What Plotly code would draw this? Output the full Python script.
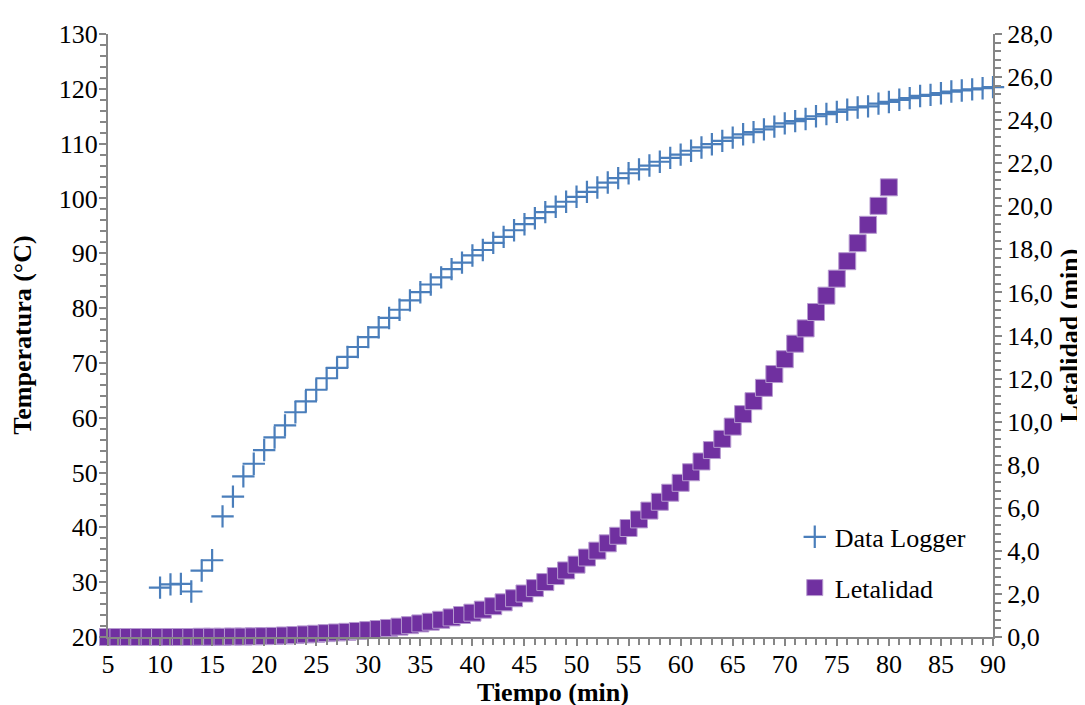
import plotly.graph_objects as go

# ---- data ----
time_logger = [10, 11, 12, 13, 14, 15, 16, 17, 18, 19, 20, 21, 22, 23, 24, 25, 26, 27, 28, 29,
               30, 31, 32, 33, 34, 35, 36, 37, 38, 39, 40, 41, 42, 43, 44, 45, 46, 47, 48, 49,
               50, 51, 52, 53, 54, 55, 56, 57, 58, 59, 60, 61, 62, 63, 64, 65, 66, 67, 68, 69,
               70, 71, 72, 73, 74, 75, 76, 77, 78, 79, 80, 81, 82, 83, 84, 85, 86, 87, 88, 89, 90]
temp_logger = [29.0, 29.6, 29.7, 28.3, 32.1, 34.0, 42.0, 45.6, 49.3, 51.6,
               54.1, 56.4, 58.6, 61.0, 63.0, 65.1, 67.2, 69.1, 71.1, 72.9,
               74.7, 76.5, 78.2, 79.7, 81.4, 82.9, 84.3, 85.6, 87.1, 88.3,
               89.6, 90.6, 91.9, 93.0, 94.2, 95.3, 96.4, 97.5, 98.5, 99.4,
               100.3, 101.2, 102.0, 102.9, 103.7, 104.6, 105.3, 106.0, 106.7, 107.4,
               108.0, 108.7, 109.3, 109.9, 110.5, 111.1, 111.7, 112.1, 112.6, 113.1,
               113.7, 114.1, 114.5, 115.0, 115.4, 115.8, 116.2, 116.6, 116.8, 117.3,
               117.6, 118.0, 118.3, 118.7, 118.9, 119.2, 119.5, 119.7, 119.9, 120.1, 120.3]

time_let = [5, 6, 7, 8, 9, 10, 11, 12, 13, 14, 15, 16, 17, 18, 19, 20, 21, 22, 23, 24,
            25, 26, 27, 28, 29, 30, 31, 32, 33, 34, 35, 36, 37, 38, 39, 40, 41, 42, 43, 44,
            45, 46, 47, 48, 49, 50, 51, 52, 53, 54, 55, 56, 57, 58, 59, 60, 61, 62, 63, 64,
            65, 66, 67, 68, 69, 70, 71, 72, 73, 74, 75, 76, 77, 78, 79, 80]
letalidad = [0.00, 0.00, 0.00, 0.00, 0.00, 0.00, 0.00, 0.00, 0.00, 0.01,
             0.01, 0.01, 0.02, 0.02, 0.03, 0.04, 0.05, 0.07, 0.09, 0.12,
             0.15, 0.18, 0.21, 0.24, 0.28, 0.32, 0.37, 0.42, 0.48, 0.55,
             0.63, 0.71, 0.80, 0.91, 1.02, 1.13, 1.27, 1.43, 1.61, 1.80,
             2.02, 2.27, 2.55, 2.83, 3.09, 3.36, 3.69, 4.01, 4.35, 4.70,
             5.06, 5.46, 5.87, 6.28, 6.70, 7.16, 7.65, 8.15, 8.68, 9.20,
             9.77, 10.35, 10.95, 11.57, 12.21, 12.90, 13.62, 14.33, 15.09, 15.85,
             16.64, 17.45, 18.29, 19.14, 20.02, 20.88]

FONT = "Liberation Serif"
AXIS = "#868686"
BLUE = "#4a7ebb"
PURPLE = "#7030a0"

fig = go.Figure()
fig.add_trace(go.Scatter(
    x=time_logger, y=temp_logger, mode="markers", name="Data Logger",
    legendgroup="a", cliponaxis=False,
    marker=dict(symbol="cross-thin", size=16, line=dict(width=2.2, color=BLUE), color=BLUE),
    xaxis="x", yaxis="y"))
fig.add_trace(go.Scatter(
    x=time_let, y=letalidad, mode="markers", name="Letalidad",
    legendgroup="b", cliponaxis=False,
    marker=dict(symbol="square", size=17, color=PURPLE, line=dict(width=1, color="#b79bd0")),
    xaxis="x", yaxis="y2"))

tickfont = dict(family=FONT, size=26, color="black")

fig.update_layout(
    width=1077, height=697,
    margin=dict(l=100, r=92, t=15, b=68),
    paper_bgcolor="white", plot_bgcolor="white",
    separators=",.",
    showlegend=True,
    legend=dict(x=0.776, y=0.205, xanchor="left", yanchor="top",
                font=dict(family=FONT, size=26, color="black"),
                bgcolor="rgba(0,0,0,0)", tracegroupgap=14, traceorder="grouped"),
    xaxis=dict(range=[5, 90], tickmode="linear", tick0=5, dtick=5,
               showgrid=False, zeroline=False, showline=True, linecolor=AXIS, linewidth=2,
               ticks="outside", ticklen=7, tickwidth=2, tickcolor=AXIS, ticklabelstandoff=-4,
               minor=dict(dtick=1, tick0=5, ticks="outside", ticklen=6, tickwidth=1.5, tickcolor=AXIS, showgrid=False),
               tickfont=tickfont, anchor="y"),
    yaxis=dict(range=[20, 130], tickmode="linear", tick0=20, dtick=10,
               showgrid=False, zeroline=False, showline=True, linecolor=AXIS, linewidth=2,
               ticks="outside", ticklen=7, tickwidth=2, tickcolor=AXIS, ticklabelstandoff=-4,
               minor=dict(dtick=2, tick0=20, ticks="outside", ticklen=6, tickwidth=1.5, tickcolor=AXIS, showgrid=False),
               tickfont=tickfont, anchor="x"),
    yaxis2=dict(range=[0, 28], tickmode="linear", tick0=0, dtick=2, tickformat=".1f",
                overlaying="y", side="right", anchor="x",
                showgrid=False, zeroline=False, showline=True, linecolor=AXIS, linewidth=2,
                ticks="outside", ticklen=7, tickwidth=2, tickcolor=AXIS,
                minor=dict(dtick=0.4, tick0=0, ticks="outside", ticklen=6, tickwidth=1.5, tickcolor=AXIS, showgrid=False),
                tickfont=tickfont),
    # overlay axes giving the inner half of the crossing major ticks
    xaxis2=dict(range=[5, 90], tickmode="linear", tick0=5, dtick=5, overlaying="x", anchor="y",
                side="bottom", showticklabels=False, showline=False, showgrid=False, zeroline=False,
                ticks="inside", ticklen=8, tickwidth=2, tickcolor=AXIS),
    yaxis3=dict(range=[20, 130], tickmode="linear", tick0=20, dtick=10, overlaying="y", anchor="x",
                side="left", showticklabels=False, showline=False, showgrid=False, zeroline=False,
                ticks="inside", ticklen=8, tickwidth=2, tickcolor=AXIS),
    yaxis4=dict(range=[0, 28], tickmode="linear", tick0=0, dtick=2, overlaying="y", anchor="x",
                side="right", showticklabels=False, showline=False, showgrid=False, zeroline=False,
                ticks="inside", ticklen=8, tickwidth=2, tickcolor=AXIS),
    annotations=[
        dict(text="<b>Tiempo (min)</b>", xref="paper", yref="paper", x=0.503, y=-0.092,
             xanchor="center", yanchor="middle", showarrow=False,
             font=dict(family=FONT, size=26, color="black")),
        dict(text="<b>Temperatura (°C)</b>", xref="paper", yref="paper", x=-0.097, y=0.5,
             xanchor="center", yanchor="middle", textangle=-90, showarrow=False,
             font=dict(family=FONT, size=26, color="black")),
        dict(text="<b>Letalidad (min)</b>", xref="paper", yref="paper", x=1.086, y=0.5,
             xanchor="center", yanchor="middle", textangle=-90, showarrow=False,
             font=dict(family=FONT, size=26, color="black")),
    ],
)

fig.write_html("out.html")
